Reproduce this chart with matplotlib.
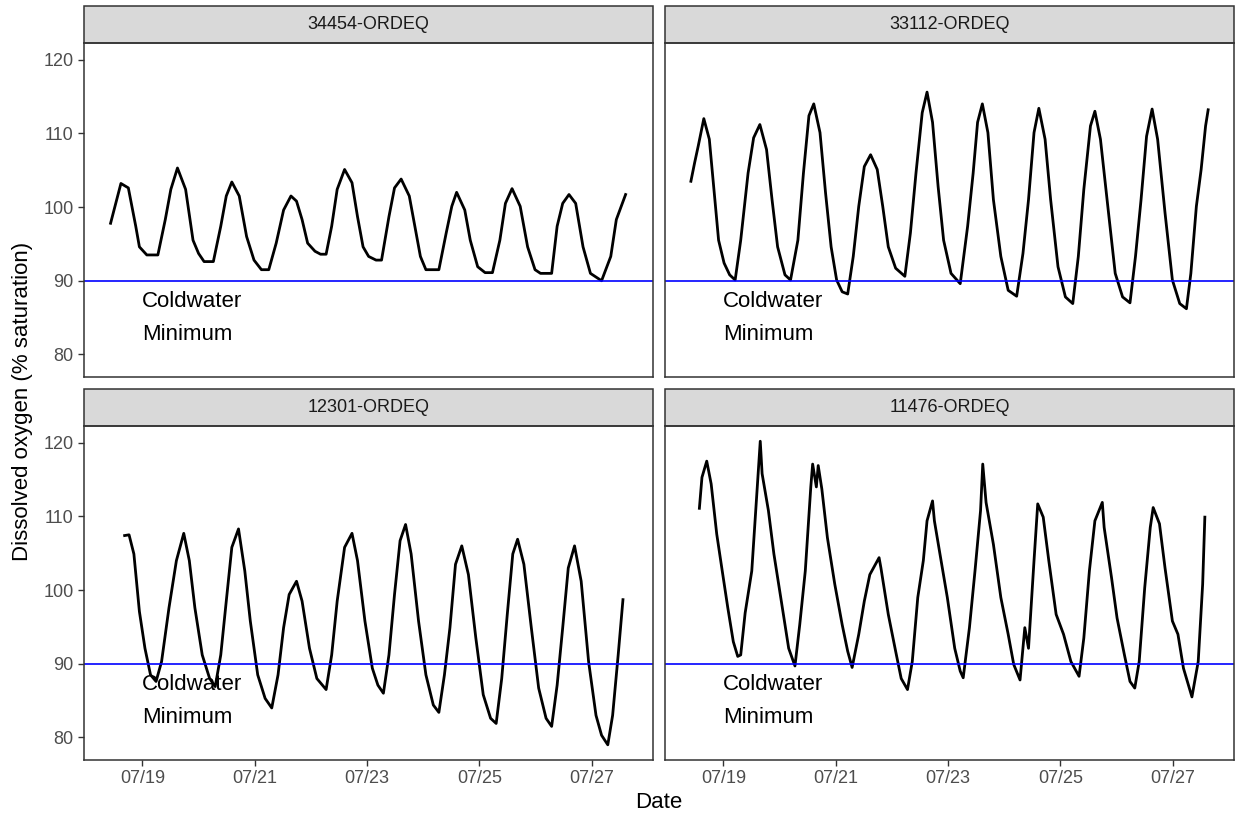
import matplotlib
matplotlib.use("Agg")
import matplotlib.pyplot as plt
import matplotlib.dates as mdates
from matplotlib.patches import Rectangle
import pandas as pd

plt.rcParams['font.family'] = ['Liberation Sans', 'DejaVu Sans']

# Days after 07/19 00:00 and DO (% saturation)
st_34454_day = [-0.566, -0.382, -0.250, -0.118, -0.053, 0.079, 0.276, 0.408, 0.507, 0.625,
                0.770, 0.902, 1.001, 1.099, 1.264, 1.396, 1.494, 1.593, 1.725, 1.856,
                1.988, 2.120, 2.251, 2.383, 2.515, 2.646, 2.745, 2.844, 2.943, 3.074,
                3.173, 3.272, 3.371, 3.469, 3.601, 3.733, 3.831, 3.930, 4.029, 4.161,
                4.259, 4.391, 4.490, 4.608, 4.753, 4.852, 4.951, 5.049, 5.280, 5.411,
                5.510, 5.596, 5.741, 5.839, 5.971, 6.103, 6.234, 6.366, 6.465, 6.583,
                6.728, 6.860, 6.992, 7.090, 7.288, 7.386, 7.485, 7.597, 7.716, 7.847,
                7.979, 8.177, 8.341, 8.440, 8.605]
st_34454_do = [97.8, 103.2, 102.6, 97.4, 94.6, 93.5, 93.5, 98.3, 102.4, 105.3,
               102.4, 95.5, 93.7, 92.6, 92.6, 97.4, 101.5, 103.4, 101.5, 96.0,
               92.8, 91.5, 91.5, 95.1, 99.6, 101.5, 100.8, 98.3, 95.1, 94.0,
               93.6, 93.6, 97.4, 102.4, 105.1, 103.3, 98.7, 94.6, 93.3, 92.8,
               92.8, 98.7, 102.6, 103.8, 101.5, 97.4, 93.3, 91.5, 91.5, 96.5,
               100.1, 102.0, 99.6, 95.5, 91.9, 91.1, 91.1, 95.5, 100.5, 102.5,
               100.1, 94.6, 91.5, 91.0, 91.0, 97.4, 100.5, 101.7, 100.5, 94.6,
               91.0, 90.0, 93.3, 98.3, 101.7]

st_33112_day = [-0.578, -0.512, -0.447, -0.348, -0.250, -0.151, -0.085, 0.013, 0.112, 0.210,
                0.309, 0.440, 0.539, 0.650, 0.769, 0.867, 0.966, 1.097, 1.196, 1.327,
                1.426, 1.524, 1.610, 1.721, 1.820, 1.919, 2.017, 2.116, 2.214, 2.313,
                2.411, 2.510, 2.622, 2.740, 2.838, 2.937, 3.068, 3.232, 3.331, 3.430,
                3.541, 3.627, 3.725, 3.824, 3.922, 4.054, 4.218, 4.350, 4.448, 4.527,
                4.612, 4.711, 4.809, 4.941, 5.072, 5.223, 5.335, 5.434, 5.532, 5.618,
                5.729, 5.828, 5.959, 6.091, 6.222, 6.321, 6.419, 6.537, 6.616, 6.715,
                6.846, 6.978, 7.109, 7.241, 7.339, 7.438, 7.536, 7.635, 7.733, 7.865,
                7.996, 8.127, 8.246, 8.325, 8.423, 8.508, 8.587, 8.633]
st_33112_do = [103.5, 106.0, 108.3, 112.0, 109.2, 101.0, 95.5, 92.4, 90.8, 90.1,
               95.5, 104.6, 109.4, 111.2, 107.8, 101.0, 94.6, 90.8, 90.1, 95.5,
               104.6, 112.4, 114.0, 110.1, 101.9, 94.6, 90.1, 88.5, 88.2, 93.3,
               100.1, 105.5, 107.1, 105.1, 100.1, 94.6, 91.7, 90.6, 96.5, 104.6,
               112.8, 115.6, 111.5, 102.8, 95.5, 91.0, 89.6, 97.4, 104.6, 111.5,
               114.0, 110.1, 101.0, 93.3, 88.7, 87.9, 93.7, 101.0, 110.1, 113.4,
               109.2, 101.0, 91.9, 87.8, 86.9, 93.3, 102.4, 111.0, 113.0, 109.2,
               100.1, 91.0, 87.8, 87.0, 93.3, 101.0, 109.6, 113.3, 109.2, 99.2,
               90.1, 86.9, 86.2, 91.0, 100.1, 105.1, 111.0, 113.2]

st_12301_day = [-0.316, -0.237, -0.151, -0.053, 0.046, 0.145, 0.244, 0.342, 0.474, 0.606,
                0.737, 0.836, 0.935, 1.066, 1.198, 1.297, 1.396, 1.494, 1.593, 1.712,
                1.824, 1.922, 2.054, 2.186, 2.304, 2.416, 2.515, 2.614, 2.745, 2.844,
                2.976, 3.107, 3.272, 3.371, 3.469, 3.601, 3.733, 3.831, 3.963, 4.095,
                4.194, 4.292, 4.391, 4.490, 4.589, 4.687, 4.786, 4.918, 5.049, 5.181,
                5.280, 5.379, 5.477, 5.576, 5.688, 5.806, 5.938, 6.070, 6.201, 6.300,
                6.399, 6.498, 6.596, 6.682, 6.794, 6.926, 7.057, 7.189, 7.288, 7.386,
                7.485, 7.584, 7.696, 7.814, 7.946, 8.078, 8.177, 8.288, 8.374, 8.473,
                8.558]
st_12301_do = [107.4, 107.5, 104.9, 97.1, 92.1, 88.5, 87.6, 90.3, 97.6, 104.0,
               107.7, 104.0, 97.6, 91.2, 88.0, 86.9, 91.2, 98.5, 105.8, 108.3,
               102.6, 95.8, 88.5, 85.3, 84.0, 88.5, 94.9, 99.4, 101.2, 98.5,
               92.1, 88.0, 86.5, 91.2, 98.5, 105.8, 107.7, 104.0, 95.8, 89.4,
               87.1, 86.0, 91.2, 99.4, 106.7, 108.9, 104.9, 95.8, 88.5, 84.4,
               83.4, 88.5, 94.9, 103.5, 106.0, 102.1, 93.5, 85.8, 82.6, 81.9,
               88.0, 96.7, 104.9, 106.9, 103.5, 94.9, 86.7, 82.6, 81.5, 87.1,
               94.9, 103.0, 106.0, 101.2, 90.3, 83.0, 80.3, 79.0, 83.0, 91.2,
               98.7]

st_11476_day = [-0.427, -0.381, -0.296, -0.217, -0.118, -0.020, 0.079, 0.177, 0.256, 0.309,
                0.388, 0.506, 0.604, 0.657, 0.690, 0.802, 0.900, 1.032, 1.163, 1.275,
                1.360, 1.459, 1.557, 1.590, 1.656, 1.689, 1.754, 1.853, 1.984, 2.116,
                2.214, 2.293, 2.411, 2.510, 2.608, 2.773, 2.806, 2.937, 3.068, 3.167,
                3.279, 3.364, 3.462, 3.561, 3.627, 3.725, 3.758, 3.857, 3.988, 4.120,
                4.218, 4.271, 4.382, 4.481, 4.580, 4.619, 4.678, 4.809, 4.941, 5.072,
                5.171, 5.283, 5.368, 5.434, 5.532, 5.598, 5.696, 5.795, 5.926, 6.058,
                6.189, 6.334, 6.419, 6.518, 6.616, 6.748, 6.781, 6.912, 7.011, 7.142,
                7.241, 7.326, 7.405, 7.503, 7.602, 7.654, 7.766, 7.865, 7.996, 8.095,
                8.193, 8.344, 8.456, 8.535, 8.574]
st_11476_do = [111.1, 115.3, 117.5, 114.4, 107.6, 102.6, 97.6, 93.0, 91.0, 91.2,
               96.9, 102.6, 114.0, 120.2, 115.8, 110.8, 104.9, 98.5, 92.1, 89.7,
               95.3, 102.6, 114.0, 117.1, 114.0, 116.9, 113.7, 107.1, 100.8, 95.3,
               91.7, 89.5, 94.0, 98.5, 102.1, 104.4, 103.0, 96.7, 91.7, 88.0,
               86.5, 90.3, 99.0, 104.0, 109.4, 112.1, 109.4, 104.9, 99.0, 92.1,
               89.0, 88.1, 94.9, 102.6, 110.8, 117.1, 111.9, 106.2, 99.0, 94.0,
               89.9, 87.8, 94.9, 92.1, 104.0, 111.7, 109.9, 104.0, 96.7, 94.0,
               90.3, 88.3, 93.5, 102.6, 109.4, 111.9, 108.5, 101.7, 96.2, 91.2,
               87.6, 86.7, 90.3, 100.3, 108.5, 111.2, 109.0, 103.0, 95.8, 94.0,
               89.4, 85.5, 90.3, 100.8, 109.9]

stations = ["34454-ORDEQ", "33112-ORDEQ", "12301-ORDEQ", "11476-ORDEQ"]
days = [st_34454_day, st_33112_day, st_12301_day, st_11476_day]
values = [st_34454_do, st_33112_do, st_12301_do, st_11476_do]
criterion = 90
label_text = "Coldwater\nMinimum"
label_y = 85

base = pd.Timestamp("2019-07-19")

fig, axes = plt.subplots(2, 2, figsize=(12.36, 8.18), dpi=100, sharex=True, sharey=True)
fig.subplots_adjust(left=0.068, right=0.9984, top=0.9474, bottom=0.0709,
                    wspace=0.0211, hspace=0.147)

for i, (ax, name, d, v) in enumerate(zip(axes.flat, stations, days, values)):
    t = base + pd.to_timedelta(d, unit="D")
    ax.plot(t, v, color="black", lw=2.0)
    ax.axhline(criterion, color="blue", lw=1.2)
    ax.text(base, label_y, label_text, ha="left", va="center", fontsize=16,
            linespacing=1.75, color="black")
    for sp in ax.spines.values():
        sp.set_color("#333333")
        sp.set_linewidth(1.1)
    ax.tick_params(colors="#333333", labelcolor="#4D4D4D", labelsize=13,
                   length=4, width=1.0)
    if i < 2:
        ax.tick_params(axis="x", length=0)
    if i % 2 == 1:
        ax.tick_params(axis="y", length=0)
    # facet strip
    ax.add_patch(Rectangle((0, 1), 1, 0.111, transform=ax.transAxes, clip_on=False,
                           facecolor="#D9D9D9", edgecolor="#333333", lw=1.1))
    ax.text(0.5, 1.0555, name, transform=ax.transAxes, ha="center", va="center",
            fontsize=13, color="#1A1A1A")

axes[0, 0].set_yticks([80, 90, 100, 110, 120])
axes[0, 0].xaxis.set_major_locator(mdates.DayLocator(bymonthday=[19, 21, 23, 25, 27]))
axes[0, 0].xaxis.set_major_formatter(mdates.DateFormatter("%m/%d"))

fig.text(0.018, 1 - 401 / 818, "Dissolved oxygen (% saturation)", rotation=90,
         ha="center", va="center", fontsize=16)
fig.text(659 / 1236, 1 - 803 / 818, "Date", ha="center", va="center", fontsize=16)

fig.savefig("out.png", dpi=100)
